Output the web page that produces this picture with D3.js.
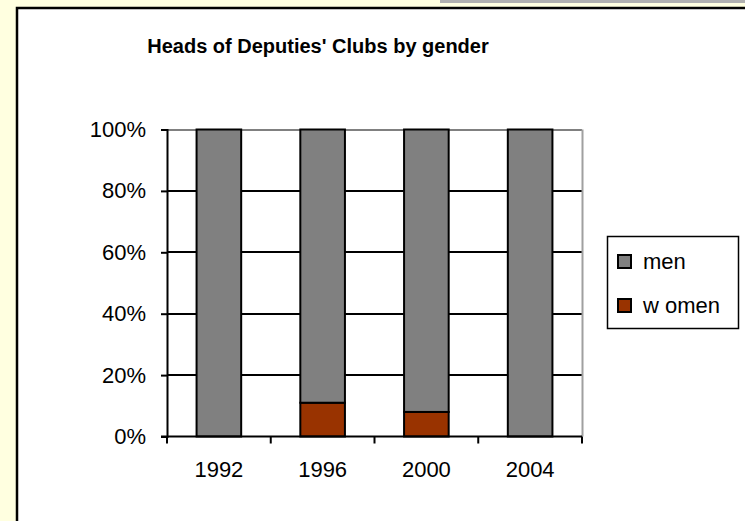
<!DOCTYPE html>
<html>
<head>
<meta charset="utf-8">
<script src="https://cdn.jsdelivr.net/npm/d3@7"></script>
<style>
  body { margin: 0; background: #ffffe0; }
  svg { display: block; font-family: Arial, "Liberation Sans", sans-serif; }
</style>
</head>
<body>
<div id="chart"></div>
<script>
// Data
const years = ["1992", "1996", "2000", "2004"];
const womenShare = [0, 11, 8, 0];
const menShare = [100, 89, 92, 100];
const seriesNames = ["men", "women"];
const seriesColors = ["#808080", "#993300"];
const yTicks = [0, 20, 40, 60, 80, 100];

const width = 745;
const height = 521;
const plot = { left: 167, right: 582, top: 129.5, bottom: 436.5 };

const svg = d3.select("#chart")
    .append("svg")
    .attr("width", width)
    .attr("height", height);

// page background and chart box
svg.append("rect")
    .attr("x", 0).attr("y", 0)
    .attr("width", width).attr("height", height)
    .attr("fill", "#ffffe0");

svg.append("rect")
    .attr("x", 440).attr("y", 0)
    .attr("width", 305).attr("height", 3)
    .attr("fill", "#b0b0b0");

svg.append("rect")
    .attr("x", 17).attr("y", 8)
    .attr("width", 760).attr("height", 540)
    .attr("fill", "#fff")
    .attr("stroke", "#000")
    .attr("stroke-width", 2.5);

// Title
svg.append("text")
    .attr("x", 318)
    .attr("y", 53)
    .attr("text-anchor", "middle")
    .style("font-weight", "bold")
    .style("font-size", "20px")
    .text("Heads of Deputies' Clubs by gender");

// Scales
const x = d3.scaleBand()
    .domain(years)
    .range([plot.left, plot.right])
    .padding(0);

const y = d3.scaleLinear()
    .domain([0, 100])
    .range([plot.bottom, plot.top]);

const barWidth = x.bandwidth() * 0.43;

// Gridlines
svg.append("g")
    .selectAll("line")
    .data(yTicks.filter(d => d > 0))
    .enter()
    .append("line")
    .attr("x1", plot.left)
    .attr("x2", plot.right)
    .attr("y1", d => Math.round(y(d)))
    .attr("y2", d => Math.round(y(d)))
    .attr("stroke", d => d === 100 ? "#808080" : "#000")
    .attr("stroke-width", 2);

// right border of plot area
svg.append("line")
    .attr("x1", plot.right + 0.5).attr("x2", plot.right + 0.5)
    .attr("y1", plot.top).attr("y2", plot.bottom)
    .attr("stroke", "#a0a0a0")
    .attr("stroke-width", 2);

// Stacked bars
const stackData = years.map((yr, i) => ({ year: yr, women: womenShare[i], men: menShare[i] }));
const stacked = d3.stack().keys(["women", "men"])(stackData);
const color = d3.scaleOrdinal().domain(seriesNames).range(seriesColors);

stacked.forEach(layer => {
    svg.append("g")
        .selectAll("rect")
        .data(layer.filter(d => d[1] - d[0] > 0))
        .enter()
        .append("rect")
        .attr("x", d => x(d.data.year) + (x.bandwidth() - barWidth) / 2)
        .attr("y", d => y(d[1]))
        .attr("width", barWidth)
        .attr("height", d => y(d[0]) - y(d[1]))
        .attr("fill", color(layer.key))
        .attr("stroke", "#000")
        .attr("stroke-width", 2);
});

// Y axis
const yAxis = d3.axisLeft(y)
    .tickValues(yTicks)
    .tickSize(6)
    .tickPadding(15)
    .tickFormat(d => d + "%");

const yg = svg.append("g")
    .attr("transform", `translate(${plot.left},0)`)
    .call(yAxis);

// X axis with ticks between categories
const xAxis = d3.axisBottom(x)
    .tickSize(0)
    .tickPadding(25);

const xg = svg.append("g")
    .attr("transform", `translate(0,${plot.bottom})`)
    .call(xAxis);

xg.selectAll(".tick-sep")
    .data(d3.range(years.length + 1))
    .enter()
    .append("line")
    .attr("x1", i => plot.left + i * x.step())
    .attr("x2", i => plot.left + i * x.step())
    .attr("y1", 0)
    .attr("y2", 7)
    .attr("stroke", "#000")
    .attr("stroke-width", 2);

[yg, xg].forEach(g => {
    g.select(".domain").attr("stroke", "#000").attr("stroke-width", 2);
    g.selectAll(".tick line").attr("stroke", "#000").attr("stroke-width", 2);
    g.selectAll("text")
        .attr("fill", "#000")
        .style("font-size", "22px")
        .style("font-family", "Arial, 'Liberation Sans', sans-serif");
});
xg.select(".domain").attr("d", `M${plot.left - 6},0H${plot.right}`);

// Legend
const legend = svg.append("g");
legend.append("rect")
    .attr("x", 607.5).attr("y", 236.5)
    .attr("width", 131).attr("height", 92)
    .attr("fill", "#fff")
    .attr("stroke", "#000")
    .attr("stroke-width", 1.5);

const items = legend.selectAll("g.item")
    .data(seriesNames)
    .enter()
    .append("g")
    .attr("transform", (d, i) => `translate(618,${255 + i * 44})`);

items.append("rect")
    .attr("width", 13).attr("height", 13)
    .attr("fill", d => color(d))
    .attr("stroke", "#000")
    .attr("stroke-width", 2);

items.append("text")
    .attr("x", 25)
    .attr("y", 14)
    .style("font-size", "22px")
    .text(d => d === "women" ? "w omen" : d);
</script>
</body>
</html>
